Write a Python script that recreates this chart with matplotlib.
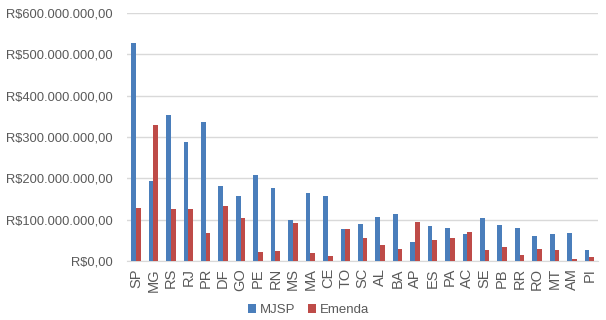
import matplotlib
matplotlib.use("Agg")
import matplotlib.pyplot as plt
import numpy as np
from matplotlib.ticker import FuncFormatter

estados = ["SP", "MG", "RS", "RJ", "PR", "DF", "GO", "PE", "RN", "MS", "MA", "CE", "TO", "SC",
           "AL", "BA", "AP", "ES", "PA", "AC", "SE", "PB", "RR", "RO", "MT", "AM", "PI"]
# valores em milhões de R$
mjsp = [528, 193, 354, 287, 336, 181, 157, 207, 176, 100, 165, 157, 78, 89,
        107, 113, 47, 85, 79, 66, 105, 88, 81, 60, 65, 67, 28]
emenda = [128, 330, 125, 125, 68, 132, 105, 22, 24, 92, 19, 12, 78, 55,
          38, 30, 94, 51, 57, 70, 27, 33, 14, 30, 26, 5, 9]

azul = "#4A7EBB"
vermelho = "#BE4B48"
cinza = "#595959"

plt.rcParams["font.family"] = ["Liberation Sans", "DejaVu Sans"]

fig = plt.figure(figsize=(6.06, 3.2), dpi=100)
ax = fig.add_axes([0.21, 0.184, 0.777, 0.776])

x = np.arange(len(estados))
w = 0.27
ax.bar(x - w / 2, np.array(mjsp) * 1e6, w, color=azul, label="MJSP", zorder=3)
ax.bar(x + w / 2, np.array(emenda) * 1e6, w, color=vermelho, label="Emenda", zorder=3)

ax.set_ylim(0, 600e6)
ax.set_yticks(np.arange(0, 600e6 + 1, 100e6))


def reais(v, pos):
    s = f"{v:,.2f}".replace(",", "X").replace(".", ",").replace("X", ".")
    return "R$" + s


ax.yaxis.set_major_formatter(FuncFormatter(reais))
ax.set_xlim(-0.5, len(estados) - 0.5)
ax.set_xticks(x)
ax.set_xticklabels(estados, rotation=90)
ax.tick_params(axis="both", length=0, colors=cinza, labelsize=9.3)
ax.tick_params(axis="x", labelsize=10.5, pad=5)
ax.tick_params(axis="y", pad=10.5)
ax.grid(axis="y", color="#D9D9D9", linewidth=1, zorder=0)
for s in ["top", "right", "left"]:
    ax.spines[s].set_visible(False)
ax.spines["bottom"].set_color("#D9D9D9")

ax.legend(loc="lower center", bbox_to_anchor=(0.385, -0.27), ncol=2, frameon=False,
          fontsize=9.5, labelcolor=cinza, handlelength=0.6, handleheight=0.6,
          handletextpad=0.3, columnspacing=1.0)

fig.savefig("out.png", dpi=100)
